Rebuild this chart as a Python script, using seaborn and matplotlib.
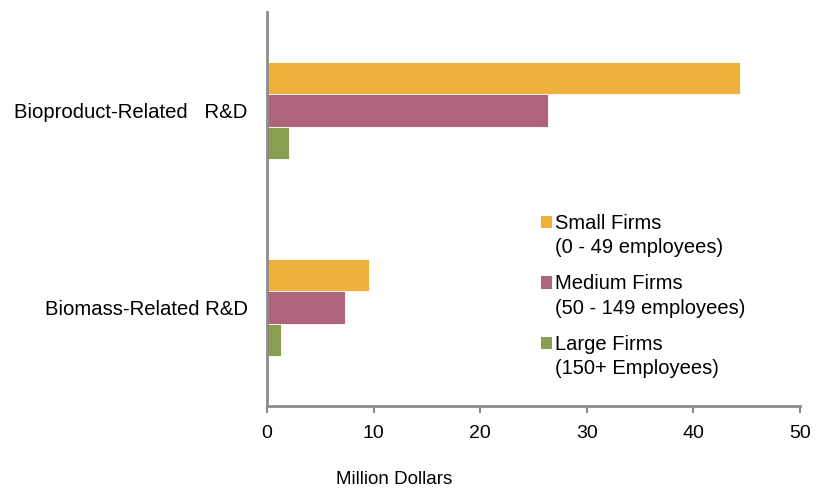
import matplotlib
matplotlib.use("Agg")
import matplotlib.pyplot as plt
import seaborn as sns
import pandas as pd

categories = ["Bioproduct-Related   R&D", "Biomass-Related R&D"]
series = ["Small Firms\n(0 - 49 employees)",
          "Medium Firms\n(50 - 149 employees)",
          "Large Firms\n(150+ Employees)"]
small_vals = [44.4, 9.6]
medium_vals = [26.4, 7.35]
large_vals = [2.1, 1.35]
x_ticks = [0, 10, 20, 30, 40, 50]

colors = ["#EFB13B", "#AE647A", "#889E50"]

rows = []
for s, vals in zip(series, [small_vals, medium_vals, large_vals]):
    for c, v in zip(categories, vals):
        rows.append({"Category": c, "Series": s, "Value": v})
df = pd.DataFrame(rows)

sns.set_theme(style="white")
plt.rcParams["font.family"] = ["Liberation Sans", "DejaVu Sans"]

fig = plt.figure(figsize=(8.22, 4.88), dpi=100)
W, H = 822, 488
ax = fig.add_axes([267 / W, 1 - 406 / H, (800 - 267) / W, (406 - 12) / H])

sns.barplot(data=df, y="Category", x="Value", hue="Series", order=categories,
            hue_order=series, palette=colors, orient="h", width=0.49,
            edgecolor="white", linewidth=0.6, saturation=1, ax=ax)

ax.set_xlim(0, 50)
ax.set_ylim(1.5, -0.5)
ax.set_xticks(x_ticks)
ax.set_xticklabels([str(t) for t in x_ticks])
ax.set_ylabel("")
ax.set_xlabel("")

for side in ["top", "right"]:
    ax.spines[side].set_visible(False)
for side in ["left", "bottom"]:
    ax.spines[side].set_color("#8c8c8c")
    ax.spines[side].set_linewidth(2)

ax.tick_params(axis="x", which="both", bottom=True, length=5, width=1.5,
               color="#8c8c8c", labelsize=14, pad=9, labelcolor="black")
ax.tick_params(axis="y", left=False, labelsize=14.6, pad=8, labelcolor="black")

fig.text(394 / W, 1 - 479 / H, "Million Dollars", ha="center", va="center",
         fontsize=13.5, color="black")

handles, labels = ax.get_legend_handles_labels()
leg = ax.legend(handles, labels, loc="upper left",
                bbox_to_anchor=((541 - 267) / (800 - 267), 1 - (214 - 12) / (406 - 12)),
                frameon=False, fontsize=14.5, handlelength=0.55, handleheight=0.55,
                handletextpad=0.15, labelspacing=0.85, borderaxespad=0,
                borderpad=0, labelcolor="black")
for t in leg.get_texts():
    t.set_linespacing(1.35)
for p in leg.get_patches():
    p.set_y(p.get_y() + 10)
    p.set_edgecolor("none")

fig.savefig("out.png", dpi=100)
